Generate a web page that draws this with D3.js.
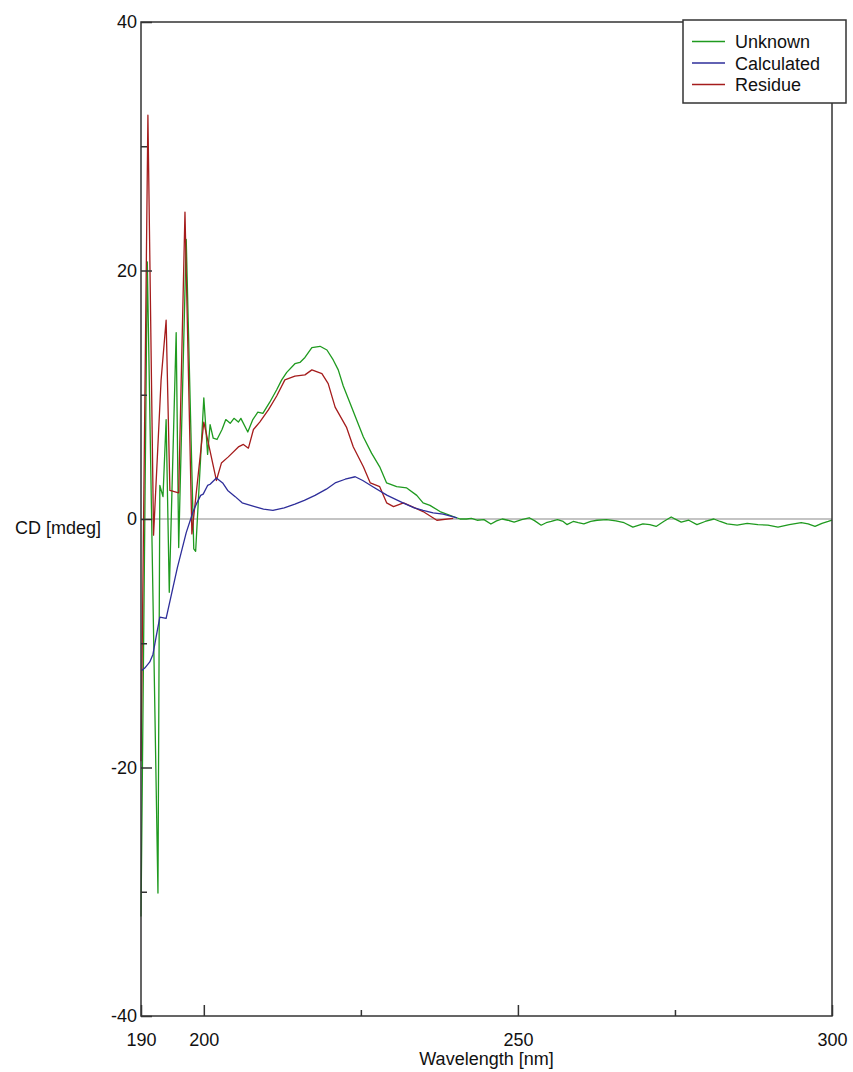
<!DOCTYPE html>
<html>
<head>
<meta charset="utf-8">
<script src="https://cdn.jsdelivr.net/npm/d3@7"></script>
<style>
  html, body { margin: 0; padding: 0; background: #fff; }
  svg text { font-family: "Liberation Sans", Arial, sans-serif; fill: #111; }
</style>
</head>
<body>
<svg id="chart" width="853" height="1072"></svg>
<script>
// CD spectrum: measured sample, fitted (calculated) spectrum and residue

const unknownWl = [190.0, 191.0, 192.7, 193.0, 193.5, 194.0, 194.5, 195.6, 196.0, 197.2, 198.4, 198.7, 200.0,
  200.6, 201.0, 201.5, 202.1, 202.9, 203.5, 204.2, 204.8, 205.5, 205.9, 207.0, 207.8, 208.6, 209.4, 210.5,
  211.6, 212.4, 213.2, 214.5, 215.3, 216.1, 217.2, 218.5, 219.6, 220.6, 221.4, 222.2, 223.3, 224.3, 225.4,
  226.7, 228.0, 229.1, 230.7, 232.3, 233.9, 234.9, 236.0, 237.6, 239.7, 240.8, 241.8, 242.6, 243.5, 244.6,
  245.7, 246.6, 247.5, 248.4, 249.4, 250.6, 251.8, 252.7, 253.7, 254.5, 255.3, 256.3, 257.2, 257.8, 258.8,
  259.6, 260.5, 261.6, 262.6, 264.1, 265.6, 266.9, 268.3, 269.9, 271.0, 272.0, 273.2, 274.4, 275.2, 276.0,
  277.2, 278.5, 279.8, 281.2, 282.2, 283.3, 284.9, 286.5, 288.2, 289.8, 291.4, 293.2, 295.1, 296.2, 297.3,
  298.4, 299.4, 300.0];
const unknownCd = [-32.0, 20.7, -30.1, 2.7, 1.8, 8.0, -5.9, 15.0, -2.3, 22.5, -2.4, -2.6, 9.75,
  5.2, 7.6, 6.5, 6.4, 7.2, 8.0, 7.7, 8.1, 7.8, 8.1, 7.0, 8.0, 8.6, 8.5, 9.4,
  10.4, 11.2, 11.8, 12.5, 12.6, 13.0, 13.8, 13.9, 13.6, 12.8, 12.0, 10.7, 9.3, 8.0, 6.6,
  5.3, 4.2, 2.9, 2.6, 2.5, 1.9, 1.3, 1.1, 0.6, 0.2, 0.0, 0.0, 0.05, -0.1, -0.05,
  -0.4, -0.15, 0.0, -0.1, -0.25, -0.05, 0.1, -0.15, -0.5, -0.3, -0.2, -0.05, -0.2, -0.45, -0.2,
  -0.3, -0.4, -0.2, -0.1, -0.05, -0.15, -0.3, -0.66, -0.4, -0.45, -0.6, -0.2, 0.16, -0.05, -0.25,
  -0.1, -0.45, -0.2, 0.0, -0.2, -0.4, -0.5, -0.35, -0.45, -0.5, -0.66, -0.45, -0.3, -0.4, -0.6,
  -0.35, -0.2, -0.1];

const calcWl = [190.1, 190.6, 191.4, 191.9, 192.4, 193.0, 194.0, 195.8, 197.2, 198.3, 198.9, 199.5, 199.9,
  200.6, 201.0, 202.0, 203.0, 203.8, 205.0, 206.1, 208.1, 209.5, 211.0, 212.8, 214.5, 216.0, 217.7,
  219.5, 220.9, 222.5, 224.1, 225.3, 226.9, 229.2, 231.7, 233.5, 234.9, 236.5, 238.1, 240.3];
const calcCd = [-12.2, -12.0, -11.5, -10.9, -9.5, -7.9, -8.0, -3.9, -1.1, 0.6, 1.3, 1.9, 2.0,
  2.7, 2.8, 3.3, 2.9, 2.3, 1.8, 1.3, 1.0, 0.8, 0.7, 0.9, 1.2, 1.5, 1.9,
  2.4, 2.9, 3.2, 3.4, 3.1, 2.6, 1.9, 1.3, 0.9, 0.7, 0.5, 0.4, 0.1];

const residueWl = [190.0, 191.1, 192.0, 193.2, 194.0, 194.6, 196.0, 197.0, 198.1, 200.0,
  202.0, 202.8, 203.9, 205.5, 206.3, 207.1, 207.9, 208.9, 210.3, 211.6, 212.9, 214.5, 216.1,
  217.2, 218.8, 219.8, 220.9, 222.7, 223.8, 225.4, 226.5, 228.0, 229.1, 230.2, 231.8, 234.9,
  237.1, 239.7];
const residueCd = [-19.5, 32.5, -1.3, 11.2, 16.0, 2.3, 2.1, 24.7, -1.2, 7.8,
  3.1, 4.5, 5.0, 5.8, 6.0, 5.7, 7.2, 7.8, 8.8, 9.9, 11.2, 11.5, 11.6,
  12.0, 11.7, 10.9, 9.0, 7.4, 5.8, 4.2, 2.9, 2.6, 1.3, 1.0, 1.3, 0.6,
  -0.1, 0.05];

const xMajorTicks = [190, 200, 250, 300];
const xMinorTicks = [225, 275];
const yMajorTicks = [-40, -20, 0, 20, 40];
const yMinorTicks = [-30, -10, 10, 30];

const seriesNames = ["Unknown", "Calculated", "Residue"];
const seriesColors = ["#1f9a1f", "#2e2e9a", "#a51c1c"];

const svg = d3.select("#chart");
const plotLeft = 141, plotRight = 832, plotTop = 22, plotBottom = 1016;

const x = d3.scaleLinear().domain([190, 300]).range([plotLeft, plotRight]);
const y = d3.scaleLinear().domain([-40, 40]).range([plotBottom, plotTop]);

// plain hyphen for negative tick labels
const tickText = d => String(d);

// zero reference line
svg.append("line")
  .attr("x1", x(190)).attr("x2", x(300))
  .attr("y1", y(0)).attr("y2", y(0))
  .attr("stroke", "#8a8a8a").attr("stroke-width", 1.2);

// spectra
const line = d3.line().x(d => x(d[0])).y(d => y(d[1]));
const series = [
  d3.zip(unknownWl, unknownCd),
  d3.zip(calcWl, calcCd),
  d3.zip(residueWl, residueCd)
];
// draw order: unknown, residue, calculated
[0, 2, 1].forEach(i => {
  svg.append("path")
    .datum(series[i])
    .attr("fill", "none")
    .attr("stroke", seriesColors[i])
    .attr("stroke-width", 1.3)
    .attr("stroke-linejoin", "round")
    .attr("d", line);
});

// frame
svg.append("rect")
  .attr("x", plotLeft).attr("y", plotTop)
  .attr("width", plotRight - plotLeft).attr("height", plotBottom - plotTop)
  .attr("fill", "none").attr("stroke", "#333").attr("stroke-width", 1.5);

// x axis
const xAxis = svg.append("g").attr("transform", `translate(0,${plotBottom})`)
  .call(d3.axisBottom(x).tickValues(xMajorTicks).tickFormat(tickText)
    .tickSizeInner(-11).tickSizeOuter(0).tickPadding(17));
xAxis.select(".domain").remove();
xAxis.selectAll("line").attr("stroke", "#333").attr("stroke-width", 1.5);
xAxis.selectAll("text").attr("font-size", 18).attr("fill", "#111")
  .style("font-family", "'Liberation Sans', Arial, sans-serif");

const xMinor = svg.append("g").attr("transform", `translate(0,${plotBottom})`)
  .call(d3.axisBottom(x).tickValues(xMinorTicks).tickFormat("")
    .tickSizeInner(-6).tickSizeOuter(0));
xMinor.select(".domain").remove();
xMinor.selectAll("line").attr("stroke", "#333").attr("stroke-width", 1.5);

// y axis
const yAxis = svg.append("g").attr("transform", `translate(${plotLeft},0)`)
  .call(d3.axisLeft(y).tickValues(yMajorTicks).tickFormat(tickText)
    .tickSizeInner(-11).tickSizeOuter(0).tickPadding(4));
yAxis.select(".domain").remove();
yAxis.selectAll("line").attr("stroke", "#333").attr("stroke-width", 1.5);
yAxis.selectAll("text").attr("font-size", 18).attr("fill", "#111")
  .style("font-family", "'Liberation Sans', Arial, sans-serif");

const yMinor = svg.append("g").attr("transform", `translate(${plotLeft},0)`)
  .call(d3.axisLeft(y).tickValues(yMinorTicks).tickFormat("")
    .tickSizeInner(-6).tickSizeOuter(0));
yMinor.select(".domain").remove();
yMinor.selectAll("line").attr("stroke", "#333").attr("stroke-width", 1.5);

// axis titles
svg.append("text")
  .attr("x", (plotLeft + plotRight) / 2).attr("y", 1065)
  .attr("text-anchor", "middle").attr("font-size", 18)
  .text("Wavelength [nm]");
svg.append("text")
  .attr("x", 15).attr("y", 534)
  .attr("font-size", 18)
  .text("CD [mdeg]");

// legend
const lg = svg.append("g");
lg.append("rect")
  .attr("x", 683).attr("y", 20).attr("width", 163).attr("height", 83)
  .attr("fill", "#fff").attr("stroke", "#333").attr("stroke-width", 1.5);
seriesNames.forEach((name, i) => {
  const ly = 41.5 + i * 21.5;
  lg.append("line")
    .attr("x1", 692).attr("x2", 725).attr("y1", ly).attr("y2", ly)
    .attr("stroke", seriesColors[i]).attr("stroke-width", 1.5);
  lg.append("text")
    .attr("x", 735).attr("y", ly + 6.5)
    .attr("font-size", 18)
    .text(name);
});
</script>
</body>
</html>
